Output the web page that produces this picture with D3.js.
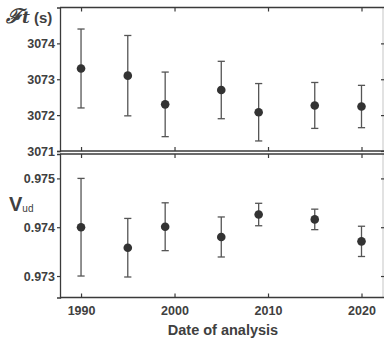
<!DOCTYPE html>
<html><head><meta charset="utf-8">
<script src="https://cdn.jsdelivr.net/npm/d3@7"></script>
<style>body{margin:0;background:#fff}svg{display:block}text{font-family:"Liberation Sans",Arial,sans-serif}</style>
</head><body><svg id="c" width="384" height="339"></svg>
<script>
const years = [1990, 1995, 1999, 2005, 2009, 2015, 2020];
const ftValues = [3073.3, 3073.1, 3072.3, 3072.7, 3072.08, 3072.27, 3072.24];
const ftErrors = [1.1, 1.12, 0.9, 0.8, 0.8, 0.64, 0.59];
const vudValues = [0.9740, 0.97358, 0.97401, 0.97380, 0.97426, 0.97416, 0.97371];
const vudErrors = [0.0010, 0.0006, 0.00049, 0.00041, 0.00023, 0.00021, 0.00031];
const xTicks = [1990, 2000, 2010, 2020];
const ftTicks = [3071, 3072, 3073, 3074];
const vudTicks = [0.973, 0.974, 0.975];

const svg = d3.select("#c");
const left = 60, right = 383;
const x = d3.scaleLinear().domain([1987.75, 2022.3]).range([left, right]);
const yTop = d3.scaleLinear().domain([3071, 3075]).range([151, 7.5]);
const yBot = d3.scaleLinear().domain([0.97256, 0.9755]).range([297.5, 154]);
const dark = "#3a3a3a", txt = "#404040";

function panel(y, ticks, fmt, vals, errs, showXLabels) {
  const [b, t] = y.range();
  const g = svg.append("g");
  g.append("line").attr("x1", right).attr("x2", right).attr("y1", t).attr("y2", b).attr("stroke", "#cfcfcf").attr("stroke-width", 1.2);
  g.append("line").attr("x1", left).attr("x2", right+1).attr("y1", t).attr("y2", t).attr("stroke", dark).attr("stroke-width", 1.3);
  g.append("line").attr("x1", left).attr("x2", right+1).attr("y1", b).attr("y2", b).attr("stroke", dark).attr("stroke-width", 1.3);
  const ya = d3.axisLeft(y).tickValues(ticks).tickFormat(fmt).tickSize(3).tickPadding(2);
  const ga = g.append("g").attr("transform", `translate(${left},0)`).call(ya);
  ga.select(".domain").attr("stroke", dark).attr("stroke-width", 1.3);
  ga.selectAll(".tick line").attr("stroke", dark).attr("stroke-width", 1.2);
  ga.selectAll(".tick text").attr("fill", txt).style("font-size", "12.5px").style("font-weight", "bold").style("font-family", "Liberation Sans, Arial, sans-serif");
  const yr = d3.axisRight(y).tickValues(ticks).tickFormat("").tickSize(-3);
  const gr = g.append("g").attr("transform", `translate(${right+1},0)`).call(yr);
  gr.select(".domain").remove();
  gr.selectAll(".tick line").attr("stroke", dark).attr("stroke-width", 1.2);
  const xb = d3.axisBottom(x).tickValues(xTicks).tickSize(-4).tickFormat(showXLabels ? d3.format("d") : "").tickPadding(9);
  const gb = g.append("g").attr("transform", `translate(0,${b})`).call(xb);
  gb.select(".domain").remove();
  gb.selectAll(".tick line").attr("stroke", dark).attr("stroke-width", 1.2);
  gb.selectAll(".tick text").attr("fill", txt).style("font-size", "12.5px").style("font-weight", "bold").style("font-family", "Liberation Sans, Arial, sans-serif");
  const xt = d3.axisTop(x).tickValues(xTicks).tickSize(-4).tickFormat("");
  const gt = g.append("g").attr("transform", `translate(0,${t})`).call(xt);
  gt.select(".domain").remove();
  gt.selectAll(".tick line").attr("stroke", dark).attr("stroke-width", 1.2);
  const eg = g.append("g").attr("stroke", "#555").attr("stroke-width", 1.3).attr("fill", "none");
  years.forEach((yr0, i) => {
    const cx = x(yr0), y1 = y(vals[i] + errs[i]), y2 = y(vals[i] - errs[i]);
    eg.append("line").attr("x1", cx).attr("x2", cx).attr("y1", y1).attr("y2", y2);
    eg.append("line").attr("x1", cx-3.6).attr("x2", cx+3.6).attr("y1", y1).attr("y2", y1);
    eg.append("line").attr("x1", cx-3.6).attr("x2", cx+3.6).attr("y1", y2).attr("y2", y2);
  });
  g.append("g").selectAll("circle").data(years).join("circle")
    .attr("cx", d => x(d)).attr("cy", (d, i) => y(vals[i])).attr("r", 4.3).attr("fill", "#333");
}

panel(yTop, ftTicks, d3.format("d"), ftValues, ftErrors, false);
panel(yBot, vudTicks, d3.format(".3f"), vudValues, vudErrors, true);

const lt = svg.append("text").attr("x", 6).attr("y", 23).attr("fill", txt);
lt.append("tspan").text("ℱ").style("font-family", "DejaVu Serif, serif").style("font-style", "italic").style("font-weight", "bold").style("font-size", "20px");
lt.append("tspan").text("t").style("font-family", "DejaVu Serif, serif").style("font-style", "italic").style("font-weight", "bold").style("font-size", "17px");
lt.append("tspan").text(" (s)").style("font-weight", "bold").style("font-size", "15px");

const lv = svg.append("text").attr("x", 9).attr("y", 211).attr("fill", txt).style("font-weight", "bold");
lv.append("tspan").text("V").style("font-size", "20px");
lv.append("tspan").text("ud").attr("dy", 1).style("font-size", "10px").style("font-weight", "normal");

svg.append("text").attr("x", 223).attr("y", 335).attr("text-anchor", "middle").attr("fill", txt)
  .style("font-size", "14.5px").style("font-weight", "bold").text("Date of analysis");
</script></body></html>
